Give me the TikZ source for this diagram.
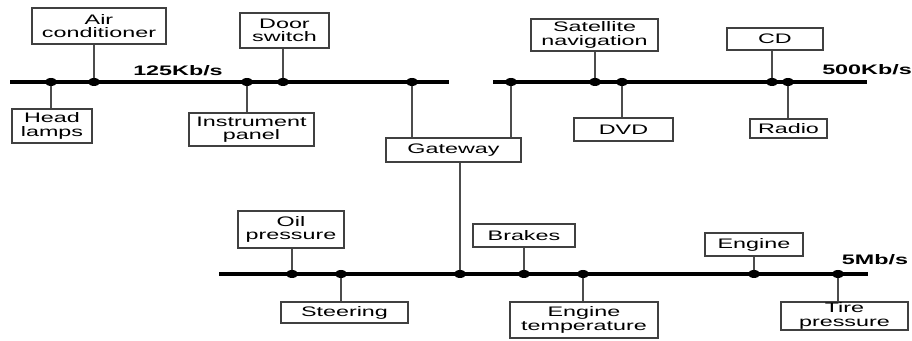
\documentclass[tikz,border=0pt]{standalone}
\usepackage{fontspec}
\newfontfamily\ecufont{Liberation Sans}[FakeStretch=1.69]
\begin{document}
\begin{tikzpicture}[x=0.5pt, y=-0.5pt,
  ecu/.style={draw=black!75, line width=0.8pt, inner sep=0pt, align=center,
    font=\ecufont\fontsize{6.9}{6.7}\selectfont},
  bus/.style={line width=1.6pt},
  branch/.style={line width=1pt, black!70},
  busname/.style={font=\ecufont\bfseries\fontsize{6.9}{6.7}\selectfont}]
  \useasboundingbox (0,0) rectangle (912,341);

  % 125Kb/s bus
  \coordinate (lo-w) at (10,82);
  \coordinate (lo-e) at (449,82);
  \coordinate (t-hl) at (51,82);
  \coordinate (t-ac) at (94,82);
  \coordinate (t-ip) at (247,82);
  \coordinate (t-ds) at (283,82);
  \coordinate (t-gl) at (412,82);
  \draw[bus] (lo-w) -- (lo-e);
  \node[busname] (lo-name) at (178,71) {125Kb/s};

  \node[ecu, minimum width=67pt, minimum height=18pt] (ac) at (99,26) {Air\\conditioner};
  \node[ecu, minimum width=44.5pt, minimum height=17.5pt] (ds) at (284.5,30.5) {Door\\switch};
  \node[ecu, minimum width=40pt, minimum height=17pt] (hl) at (52,126) {Head\\lamps};
  \node[ecu, minimum width=62.5pt, minimum height=16.5pt] (ip) at (251.5,129.5) {Instrument\\panel};

  % 500Kb/s bus
  \coordinate (md-w) at (493,82);
  \coordinate (md-e) at (867,82);
  \coordinate (t-gm) at (511,82);
  \coordinate (t-sn) at (595,82);
  \coordinate (t-dvd) at (622,82);
  \coordinate (t-cd) at (772,82);
  \coordinate (t-rd) at (788,82);
  \draw[bus] (md-w) -- (md-e);
  \node[busname] (md-name) at (867,70) {500Kb/s};

  \node[ecu, minimum width=63.5pt, minimum height=16pt] (sn) at (594.5,35) {Satellite\\navigation};
  \node[ecu, minimum width=48pt, minimum height=11pt] (cd) at (775,39) {CD};
  \node[ecu, minimum width=49.5pt, minimum height=11.5pt] (dvd) at (623.5,129.5) {DVD};
  \node[ecu, minimum width=38.5pt, minimum height=9.5pt] (rd) at (788.5,128.5) {Radio};

  % Gateway
  \node[ecu, minimum width=67.5pt, minimum height=12pt] (gw) at (453.5,150) {Gateway};

  % 5Mb/s bus
  \coordinate (hi-w) at (219,274);
  \coordinate (hi-e) at (868,274);
  \coordinate (t-op) at (292,274);
  \coordinate (t-st) at (341,274);
  \coordinate (t-gh) at (460,274);
  \coordinate (t-br) at (524,274);
  \coordinate (t-et) at (583,274);
  \coordinate (t-en) at (754,274);
  \coordinate (t-tp) at (838,274);
  \draw[bus] (hi-w) -- (hi-e);
  \node[busname] (hi-name) at (875,260) {5Mb/s};

  \node[ecu, minimum width=53pt, minimum height=18.5pt] (op) at (291,229.5) {Oil\\pressure};
  \node[ecu, minimum width=63.5pt, minimum height=10.5pt] (st) at (344.5,312.5) {Steering};
  \node[ecu, minimum width=51pt, minimum height=11.5pt] (br) at (524,235.5) {Brakes};
  \node[ecu, minimum width=74pt, minimum height=18pt] (et) at (584,320) {Engine\\temperature};
  \node[ecu, minimum width=49pt, minimum height=11.5pt] (en) at (754,244.5) {Engine};
  \node[ecu, minimum width=63.5pt, minimum height=14pt] (tp) at (844.5,316) {Tire\\pressure};

  % Branches to the ECUs
  \draw[branch] (t-ac) -- (t-ac |- ac.south);
  \draw[branch] (t-ds) -- (t-ds |- ds.south);
  \draw[branch] (t-hl) -- (t-hl |- hl.north);
  \draw[branch] (t-ip) -- (t-ip |- ip.north);
  \draw[branch] (t-sn) -- (t-sn |- sn.south);
  \draw[branch] (t-cd) -- (t-cd |- cd.south);
  \draw[branch] (t-dvd) -- (t-dvd |- dvd.north);
  \draw[branch] (t-rd) -- (t-rd |- rd.north);
  \draw[branch] (t-op) -- (t-op |- op.south);
  \draw[branch] (t-st) -- (t-st |- st.north);
  \draw[branch] (t-br) -- (t-br |- br.south);
  \draw[branch] (t-et) -- (t-et |- et.north);
  \draw[branch] (t-en) -- (t-en |- en.south);
  \draw[branch] (t-tp) -- (t-tp |- tp.north);

  % Gateway links
  \draw[branch] (t-gl) -- (t-gl |- gw.north);
  \draw[branch] (t-gm) -- (t-gm |- gw.north);
  \draw[branch] (t-gh) -- (t-gh |- gw.south);

  % Taps
  \foreach \t in {t-hl,t-ac,t-ip,t-ds,t-gl,t-gm,t-sn,t-dvd,t-cd,t-rd,t-op,t-st,t-gh,t-br,t-et,t-en,t-tp}
    \fill (\t) ellipse (3pt and 2pt);

\end{tikzpicture}
\end{document}
